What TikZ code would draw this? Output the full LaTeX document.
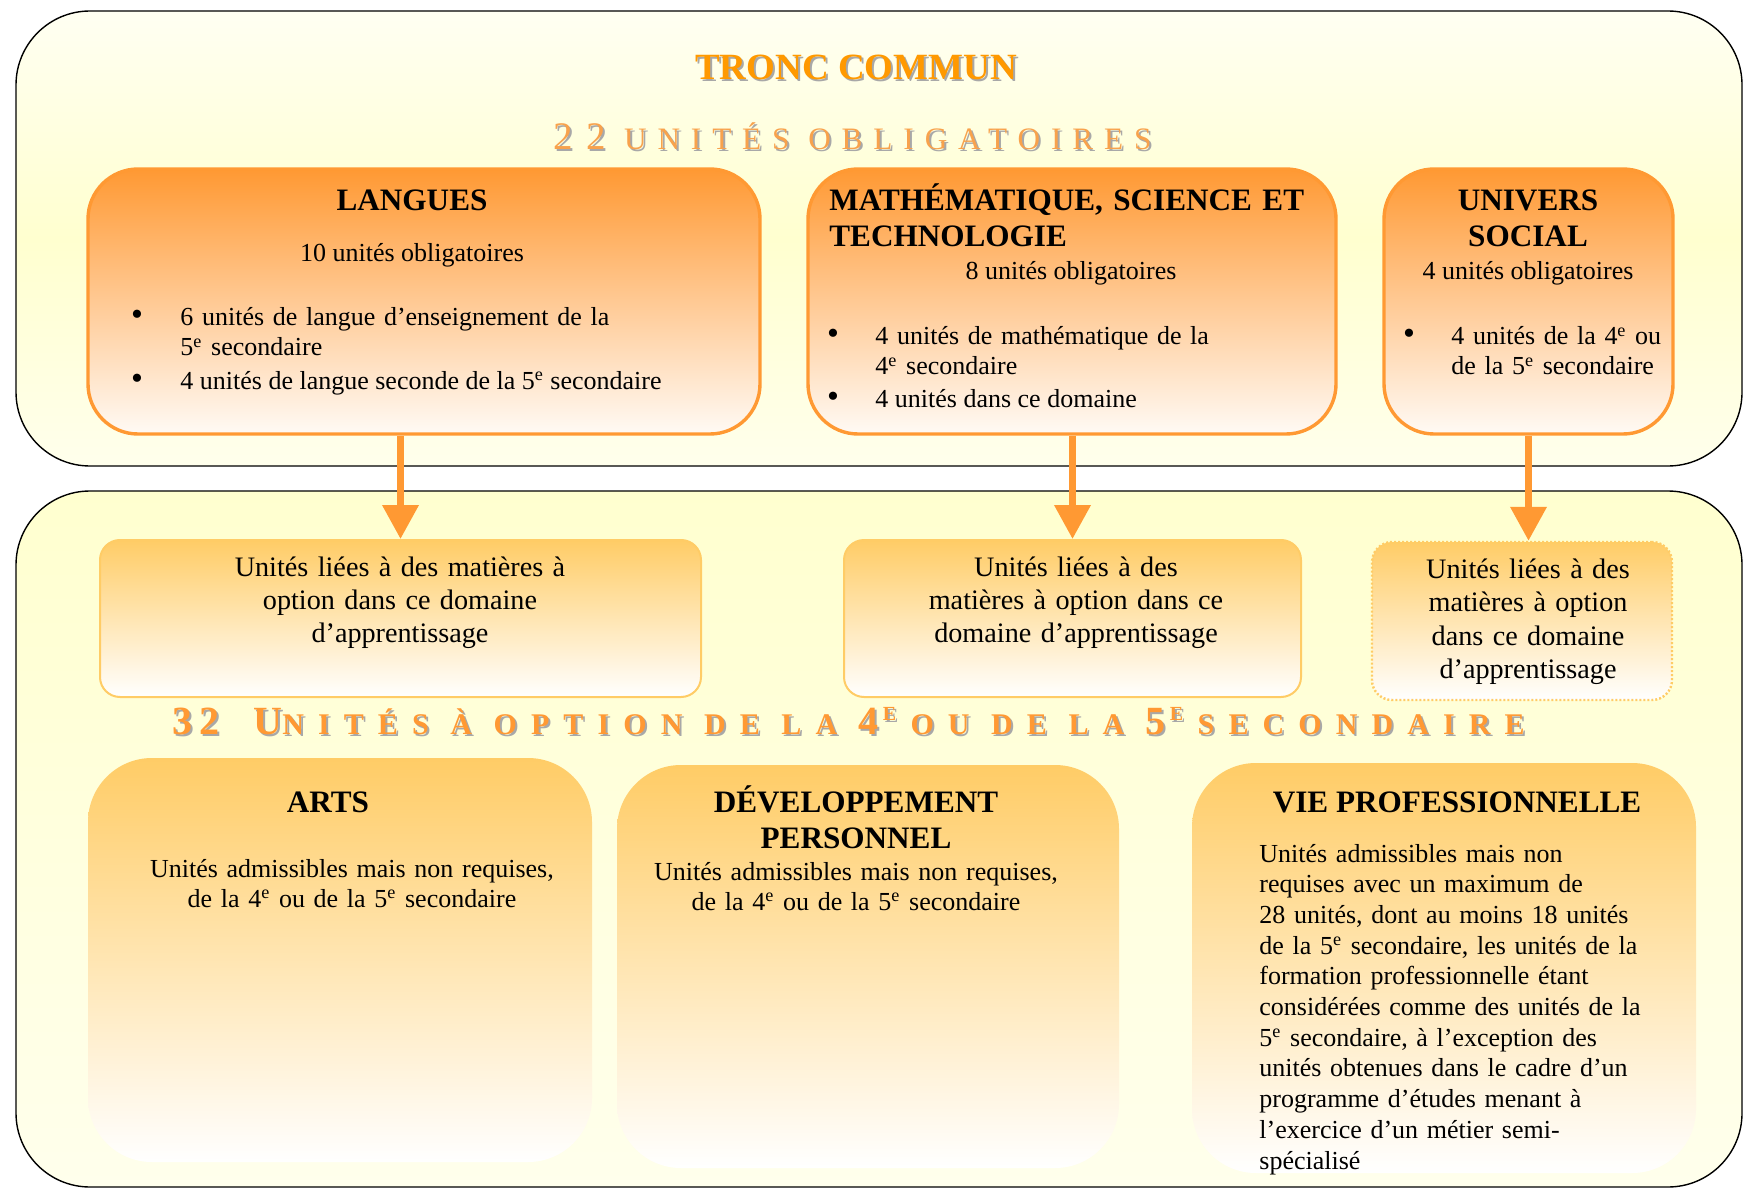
\documentclass[tikz,border=0pt]{standalone}
\usepackage{fontspec}
\setmainfont{Liberation Serif}
\newfontfamily\spacedserif[LetterSpace=35]{Liberation Serif}
\newfontfamily\widespaced[LetterSpace=47]{Liberation Serif}
\usetikzlibrary{arrows.meta,fit}
\definecolor{trunk}{HTML}{FF9900}
\definecolor{headorange}{HTML}{FF9933}
\definecolor{optorange}{HTML}{FFCC66}
\definecolor{spreadorange}{HTML}{F8A24C}
\definecolor{shadowgray}{HTML}{A8A8A8}
\definecolor{paletop}{HTML}{FFFFF2}
\definecolor{palemid}{HTML}{FFFFCF}
\definecolor{palebot}{HTML}{FFFFEC}
\newcommand\ex{\textsuperscript{e}}
\newcommand\obligtext{{\fontsize{19.5}{20}\selectfont 22}\hspace{3pt} {\fontsize{15.6}{16}\selectfont UNITÉS OBLIGATOIRES}}
\newcommand\optiontext{{\rmfamily\fontsize{20}{20}\selectfont 3\hspace{3.5pt}2}\hspace{17pt}{\fontsize{20}{20}\selectfont U}{\fontsize{15}{15}\selectfont NITÉS À OPTION DE LA }{\fontsize{20}{20}\selectfont 4}\hspace{2pt}\raisebox{7pt}{\fontsize{10}{10}\selectfont E} {\fontsize{15}{15}\selectfont OU DE LA }{\fontsize{20}{20}\selectfont 5}\hspace{2pt}\raisebox{7pt}{\fontsize{10}{10}\selectfont E} {\fontsize{15}{15}\selectfont SECONDAIRE}}
\begin{document}
\begin{tikzpicture}[x=.5pt,y=-.5pt,
  zone/.style={draw=black,line width=.7pt,rounded corners=37pt,inner sep=0pt},
  core/.style={draw=headorange,line width=1.7pt,rounded corners=25pt,top color=headorange,bottom color=white!96!orange,inner sep=0pt},
  optbox/.style={draw=optorange,line width=1pt,rounded corners=10pt,top color=optorange,bottom color=white,inner sep=0pt},
  openbox/.style={rounded corners=32pt,top color=optorange,bottom color=white,inner sep=0pt},
  boxbody/.style={font=\fontsize{13}{15}\selectfont,inner sep=0pt},
  boxhead/.style={font=\bfseries\fontsize{15.6}{18}\selectfont,inner sep=0pt},
  dotmark/.style={font=\fontsize{17}{17}\selectfont,inner sep=0pt,anchor=base},
  optbody/.style={font=\fontsize{14.1}{16.5}\selectfont,inner sep=0pt,align=center,text width=200pt,anchor=base},
  spread/.style={font=\spacedserif,inner sep=0pt,anchor=base west},
  feed/.style={draw=headorange,line width=3.5pt,-{Triangle[width=17.5pt,length=17pt]}}]
  \useasboundingbox (0,0) rectangle (1744,1192);
  % the two zones
  \node[zone,top color=paletop,bottom color=palebot,middle color=palemid,fit={(16,11) (1742,466)}] (tronc) {};
  \node[zone,top color=palemid,bottom color=palebot,fit={(16,491) (1742,1187)}] (options) {};
  \node[font=\bfseries\fontsize{18.5}{20}\selectfont,text=shadowgray,anchor=base,inner sep=0pt] (troncshadow) at (858,82) {TRONC COMMUN};
  \node[font=\bfseries\fontsize{18.5}{20}\selectfont,text=trunk,anchor=base,inner sep=0pt] (tronctitle) at (856,80) {TRONC COMMUN};
  \node[spread,text=shadowgray] (obligshadow) at (555,152) {\obligtext};
  \node[spread,text=spreadorange] (oblig) at (553,150) {\obligtext};
  % compulsory subjects
  \node[core,fit={(88,169) (760,434)}] (langues) {};
  \node[core,fit={(808,169) (1336,434)}] (math) {};
  \node[core,fit={(1384,169) (1673,434)}] (univers) {};
  \node[boxhead,anchor=base] (languestitle) at (412,211) {LANGUES};
  \node[boxbody,anchor=base] (languesnb) at (412,262) {10 unités obligatoires};
  \node[dotmark] (languesdotA) at (137,326) {\textbullet};
  \node[boxbody,anchor=base west,align=left,text width=300pt] (languesitemA) at (180,326) {6 unités de langue d'enseignement de la\\5\ex{} secondaire};
  \node[dotmark] (languesdotB) at (137,389) {\textbullet};
  \node[boxbody,anchor=base west] (languesitemB) at (180,389) {4 unités de langue seconde de la 5\ex{} secondaire};
  \node[boxhead,anchor=base west,align=left,text width=300pt] (mathtitle) at (829,211) {MATHÉMATIQUE, SCIENCE ET\\TECHNOLOGIE};
  \node[boxbody,anchor=base] (mathnb) at (1071,280) {8 unités obligatoires};
  \node[dotmark] (mathdotA) at (833,345) {\textbullet};
  \node[boxbody,anchor=base west,align=left,text width=200pt] (mathitemA) at (875,345) {4 unités de mathématique de la\\4\ex{} secondaire};
  \node[dotmark] (mathdotB) at (833,408) {\textbullet};
  \node[boxbody,anchor=base west] (mathitemB) at (875,408) {4 unités dans ce domaine};
  \node[boxhead,anchor=base,align=center,text width=140pt] (universtitle) at (1528,211) {UNIVERS\\SOCIAL};
  \node[boxbody,anchor=base] (universnb) at (1528,280) {4 unités obligatoires};
  \node[dotmark] (universdot) at (1409,345) {\textbullet};
  \node[boxbody,anchor=base west,align=left,text width=120pt] (universitem) at (1451,345) {4 unités de la 4\ex{} ou\\de la 5\ex{} secondaire};
  % optional units of the same domains
  \node[optbox,fit={(100,540) (701,697)}] (languesopt) {};
  \node[optbox,fit={(844,540) (1301,697)}] (mathopt) {};
  \node[optbox,dash pattern=on 1pt off 1pt,line width=1.2pt,fit={(1372,542) (1672,700)}] (universopt) {};
  \node[optbody] (languesopttext) at (400,576) {Unités liées à des matières à\\option dans ce domaine\\d'apprentissage};
  \node[optbody] (mathopttext) at (1076,576) {Unités liées à des\\matières à option dans ce\\domaine d'apprentissage};
  \node[optbody,font=\fontsize{14.1}{16.8}\selectfont] (universopttext) at (1528,578) {Unités liées à des\\matières à option\\dans ce domaine\\d'apprentissage};
  \draw[feed] (languesopt.north |- langues.south) -- (languesopt.north);
  \draw[feed] (mathopt.north |- math.south) -- (mathopt.north);
  \draw[feed] (univers.south) -- (univers.south |- universopt.north);
  \node[spread,font=\widespaced\bfseries,text=shadowgray] (optionshadow) at (174,736) {\optiontext};
  \node[spread,font=\widespaced\bfseries,text=headorange] (optiontitle) at (172,734) {\optiontext};
  % admissible units
  \node[openbox,fit={(88,758) (592,1162)}] (arts) {};
  \node[openbox,fit={(617,765) (1119,1168)}] (perso) {};
  \node[openbox,fit={(1192,763) (1696,1173)}] (viepro) {};
  \node[boxhead,anchor=base] (artstitle) at (328,812) {ARTS};
  \node[boxbody,anchor=base,align=center,text width=240pt] (artstext) at (352,877) {Unités admissibles mais non requises,\\de la 4\ex{} ou de la 5\ex{} secondaire};
  \node[boxhead,anchor=base,align=center,text width=240pt] (persotitle) at (856,812) {DÉVELOPPEMENT\\PERSONNEL};
  \node[boxbody,anchor=base,align=center,text width=240pt] (persotext) at (856,880) {Unités admissibles mais non requises,\\de la 4\ex{} ou de la 5\ex{} secondaire};
  \node[boxhead,anchor=base] (viprotitle) at (1457,812) {VIE PROFESSIONNELLE};
  \node[boxbody,font=\fontsize{13}{15.35}\selectfont,anchor=base west,align=left,text width=220pt] (viprotext) at (1259,862)
    {Unités admissibles mais non\\requises avec un maximum de\\28 unités, dont au moins 18 unités\\de la 5\ex{} secondaire, les unités de la\\formation professionnelle étant\\considérées comme des unités de la\\5\ex{} secondaire, à l'exception des\\unités obtenues dans le cadre d'un\\programme d'études menant à\\l'exercice d'un métier semi-\\spécialisé};
\end{tikzpicture}
\end{document}
